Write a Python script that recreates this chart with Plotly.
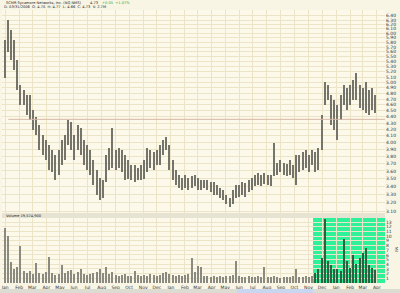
import plotly.graph_objects as go
import pandas as pd

# ---- data (weekly ranges) ----
week_dates = pd.date_range("2003-12-31", periods=118, freq="7D")

high = [5.85, 6.30, 6.07, 5.85, 5.43, 4.95, 4.86, 4.77, 4.77, 4.51,
        4.39, 4.27, 4.11, 4.04, 3.96, 3.89, 3.82, 3.89, 4.04, 4.11,
        4.35, 4.31, 4.11, 4.27, 4.22, 4.04, 3.96, 3.89, 3.75, 3.61,
        3.51, 3.48, 3.82, 3.92, 4.22, 3.89, 3.92, 3.89, 3.82, 3.75,
        3.68, 3.68, 3.64, 3.68, 3.75, 3.92, 3.89, 3.86, 3.89, 3.96,
        4.04, 4.08, 3.96, 3.75, 3.61, 3.55, 3.51, 3.55, 3.51, 3.53,
        3.55, 3.51, 3.48, 3.48, 3.48, 3.45, 3.45, 3.42, 3.38, 3.36,
        3.29, 3.26, 3.36, 3.42, 3.42, 3.45, 3.44, 3.48, 3.51, 3.55,
        3.57, 3.55, 3.57, 3.55, 3.55, 4.00, 3.71, 3.75, 3.71, 3.70,
        3.75, 3.68, 3.82, 3.82, 3.86, 3.89, 3.82, 3.89, 3.86, 3.92,
        4.43, 5.00, 4.95, 4.77, 4.68, 4.59, 4.77, 4.95, 4.90, 4.95,
        5.04, 5.17, 4.95, 4.90, 5.00, 4.86, 4.90, 4.77]

low = [5.08, 5.60, 5.43, 5.23, 4.86, 4.59, 4.59, 4.43, 4.35, 4.19,
       4.11, 3.89, 3.82, 3.75, 3.61, 3.59, 3.48, 3.55, 3.68, 3.75,
       3.96, 3.89, 3.75, 3.89, 3.82, 3.68, 3.61, 3.55, 3.42, 3.29,
       3.23, 3.26, 3.45, 3.61, 3.64, 3.61, 3.64, 3.59, 3.48, 3.50,
       3.48, 3.45, 3.48, 3.48, 3.50, 3.59, 3.64, 3.61, 3.68, 3.68,
       3.82, 3.89, 3.61, 3.48, 3.42, 3.38, 3.36, 3.38, 3.36, 3.38,
       3.40, 3.36, 3.36, 3.38, 3.36, 3.33, 3.29, 3.29, 3.26, 3.23,
       3.18, 3.15, 3.18, 3.26, 3.27, 3.29, 3.27, 3.33, 3.36, 3.40,
       3.42, 3.40, 3.43, 3.42, 3.40, 3.53, 3.55, 3.59, 3.55, 3.53,
       3.55, 3.51, 3.42, 3.59, 3.61, 3.64, 3.59, 3.68, 3.59, 3.61,
       3.89, 4.59, 4.68, 4.27, 4.19, 4.04, 4.35, 4.59, 4.51, 4.59,
       4.68, 4.68, 4.54, 4.51, 4.47, 4.43, 4.51, 4.47]

volume_m = [11.7, 10.0, 4.5, 3.0, 3.4, 7.9, 2.5, 2.2, 2.6, 2.0,
            4.2, 2.2, 2.0, 2.3, 5.5, 2.1, 1.8, 2.0, 3.8, 2.2,
            2.5, 2.7, 2.0, 2.3, 3.1, 1.9, 1.8, 2.0, 2.2, 2.4,
            3.1, 2.2, 3.4, 2.0, 2.3, 1.8, 1.6, 1.7, 1.9, 1.5,
            1.6, 2.5, 1.7, 1.5, 1.8, 1.6, 2.0, 1.7, 1.5, 1.8,
            2.1, 2.4, 2.0, 1.8, 1.6, 1.7, 1.5, 1.8, 2.0, 5.3,
            2.4, 3.6, 3.5, 1.6, 1.4, 1.3, 1.5, 1.2, 1.4, 1.3,
            1.5, 1.6, 1.8, 4.6, 1.5, 1.3, 1.2, 1.4, 1.3, 1.2,
            1.4, 1.3, 3.5, 1.3, 1.2, 1.6, 1.3, 1.1, 1.2, 1.3,
            1.2, 1.4, 3.1, 1.3, 1.2, 1.4, 1.3, 1.5, 2.2, 3.0,
            5.3, 13.6, 4.8, 3.8, 2.9, 3.0, 2.5, 9.5, 4.6, 3.2,
            5.9, 4.0, 5.3, 6.4, 7.4, 3.8, 3.2, 2.7]

price_ticks = [round(3.1 + 0.1 * k, 2) for k in range(34)]
volume_ticks = list(range(1, 14))
ref_level = 4.36
highlight_start = "2005-11-11"
title_main = "SCMR Sycamore Networks, Inc. (NQ NMS)"
title_last = "4.73"
title_change = "+0.05  +1.07%"
title_line2 = "D: 03/31/2006  O: 4.70  H: 4.77  L: 4.66  C: 4.73  V: 2.7M"
volume_label = "Volume 19,574,900"

# ---- styling ----
BG = "#fcf9ea"
PAPER = "#f8f5e4"
GRID = "#ebe4c6"
PRICE_COL = "#74746b"
VOL_COL = "#8a8a80"
VOL_COL_HL = "#2f5e40"
GREEN = "#2ef29a"

x_range = ["2003-12-25", "2006-04-19"]
day_ms = 86400000

vol_colors = [VOL_COL_HL if d >= pd.Timestamp(highlight_start) else VOL_COL
              for d in week_dates]

fig = go.Figure()

# price ranges (weekly high-low bars)
fig.add_trace(go.Bar(
    x=week_dates, y=[h - l for h, l in zip(high, low)], base=low,
    width=2.6 * day_ms, marker=dict(color=PRICE_COL, line=dict(width=0)),
    xaxis="x", yaxis="y", showlegend=False, hoverinfo="skip"))

# reference line
fig.add_trace(go.Scatter(
    x=["2004-01-08", x_range[1]], y=[ref_level, ref_level], mode="lines",
    line=dict(color="#d7b7a3", width=1), xaxis="x", yaxis="y",
    showlegend=False, hoverinfo="skip"))

# volume
fig.add_trace(go.Bar(
    x=week_dates, y=volume_m, width=2.6 * day_ms,
    marker=dict(color=vol_colors, line=dict(width=0)),
    xaxis="x2", yaxis="y2", showlegend=False, hoverinfo="skip"))

tickfont = dict(family="DejaVu Sans", size=4.5, color="#333333")
small = dict(family="DejaVu Sans", size=3.6, color="#222222")

fig.update_layout(
    width=400, height=293,
    margin=dict(l=2, r=15, t=10, b=10),
    paper_bgcolor=PAPER, plot_bgcolor=BG,
    bargap=0,
    xaxis=dict(domain=[0, 1], anchor="y", type="date", range=x_range,
               dtick="M1", tick0="2004-01-01", showticklabels=False,
               showgrid=True, gridcolor=GRID, gridwidth=1, zeroline=False,
               showline=False, ticks=""),
    xaxis2=dict(domain=[0, 1], anchor="y2", type="date", range=x_range,
                matches="x", dtick="M1", tick0="2004-01-01", tickformat="%b",
                showgrid=True, gridcolor=GRID, gridwidth=1, zeroline=False,
                showline=False, ticks="", tickfont=tickfont, ticklabelstandoff=0),
    yaxis=dict(domain=[0.2564, 1], anchor="x", side="right", type="log",
               range=[0.4886, 0.8156], tickvals=price_ticks,
               ticktext=[f"{v:.2f}" for v in price_ticks],
               showgrid=True, gridcolor=GRID, gridwidth=1, zeroline=False,
               showline=False, ticks="", tickfont=tickfont),
    yaxis2=dict(domain=[0, 0.2381], anchor="x2", side="right",
                range=[0, 13.9], tickvals=volume_ticks,
                ticktext=[str(v) for v in volume_ticks],
                showgrid=True, gridcolor=GRID, gridwidth=1, zeroline=False,
                showline=False, ticks="", tickfont=tickfont),
    shapes=[
        dict(type="rect", xref="x2", yref="y2 domain", x0=highlight_start,
             x1=x_range[1], y0=0, y1=1, fillcolor=GREEN, line=dict(width=0),
             layer="below"),
        dict(type="rect", xref="paper", yref="paper", x0=0, x1=1,
             y0=0.2381, y1=0.2564, fillcolor="#e6e3d3", line=dict(width=0)),
        dict(type="rect", xref="paper", yref="paper", x0=-0.01, x1=1.04,
             y0=-0.0366, y1=-0.022, fillcolor="#dddcd2", line=dict(width=0)),
        dict(type="rect", xref="paper", yref="paper", x0=0.6136, x1=0.812,
             y0=-0.0366, y1=-0.022, fillcolor="#c7d7ef", line=dict(width=0)),
    ],
    annotations=[
        dict(text=title_main, xref="paper", yref="paper", x=0.005, y=1.0256,
             xanchor="left", yanchor="middle", showarrow=False, font=small),
        dict(text=title_last, xref="paper", yref="paper", x=0.225, y=1.0256,
             xanchor="left", yanchor="middle", showarrow=False, font=small),
        dict(text=title_change, xref="paper", yref="paper", x=0.255, y=1.0256,
             xanchor="left", yanchor="middle", showarrow=False,
             font=dict(family="DejaVu Sans", size=3.6, color="#1fa83c")),
        dict(text=title_line2, xref="paper", yref="paper", x=0.0, y=1.0092,
             xanchor="left", yanchor="middle", showarrow=False, font=small),
        dict(text=volume_label, xref="paper", yref="paper", x=0.004, y=0.2472,
             xanchor="left", yanchor="middle", showarrow=False, font=small),
        dict(text="Mil", xref="paper", yref="paper", x=1.03, y=0.12,
             xanchor="center", yanchor="middle", showarrow=False, textangle=90,
             font=dict(family="DejaVu Sans", size=4, color="#333333")),
    ],
)

fig.write_html("out.html")
